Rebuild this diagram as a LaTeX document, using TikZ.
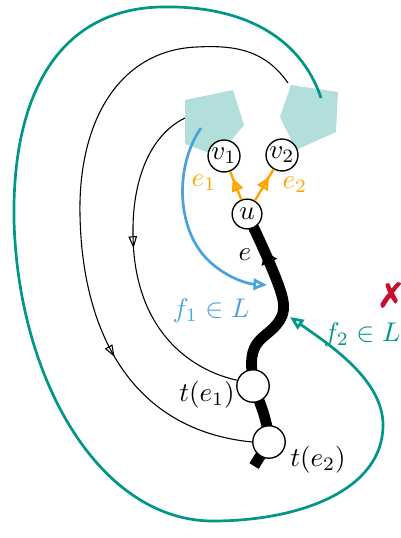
\documentclass[tikz,border=0pt]{standalone}
\usepackage{fontspec}
\newfontfamily\symfont[FakeBold=1.8]{DejaVu Sans}
\usetikzlibrary{arrows.meta,decorations.markings}
\pgfdeclarelayer{back}\pgfdeclarelayer{mid}\pgfsetlayers{back,mid,main}
\definecolor{tealc}{RGB}{0,150,136}
\definecolor{bluec}{RGB}{74,163,223}
\definecolor{orangec}{RGB}{255,165,0}
\definecolor{pentc}{RGB}{178,223,219}
\definecolor{redc}{RGB}{200,16,46}
\tikzset{
  vnode/.style={circle,draw,fill=white,inner sep=0.3pt,minimum size=11pt,line width=0.5pt},
  tnode/.style={circle,draw,fill=white,inner sep=0pt,minimum size=12pt,line width=0.5pt},
  pent/.style={fill=pentc,draw=none},
  thinc/.style={line width=0.4pt},
  midopen/.style={decoration={markings,mark=at position #1 with {\arrow{Triangle[open,length=4.4pt,width=3.2pt]}}},postaction=decorate},
  orangeedge/.style={draw=orangec,line width=0.9pt,decoration={markings,mark=at position 0.76 with {\arrow{Triangle[open,length=4.8pt,width=4.4pt]}}},postaction=decorate},
  thickedge/.style={line width=4pt},
  midsolid/.style={decoration={markings,mark=at position #1 with {\arrow{Latex[length=5.6pt,width=6.8pt]}}},postaction=decorate},
  bluecurve/.style={draw=bluec,line width=1pt},
  tealcurve/.style={draw=tealc,line width=1pt},
  endopen/.style={-{Triangle[open,length=5pt,width=4.2pt]}},
}
\begin{document}
\begin{tikzpicture}[x=0.37pt,y=-0.37pt]
\useasboundingbox (0,0) rectangle (401,538);
% nodes
\node[vnode] (u) at (247,214) {$u$};
\node[vnode] (v1) at (224,156) {$v_1$};
\node[vnode] (v2) at (282,155) {$v_2$};
\node[tnode] (t1) at (253,386) {};
\node[tnode] (t2) at (269,442) {};
% free coordinates
\coordinate (p1s) at (185,118);
\coordinate (p2s) at (288,83);
\coordinate (bs) at (201,128);
\coordinate (be) at (267,285);
\coordinate (ts) at (321,98);
\coordinate (te) at (290,317);
\coordinate (stub) at (254,466);
\begin{pgfonlayer}{back}
\fill[pent] (185,100) -- (233,90) -- (244,125) -- (218,156) -- (185,144) -- cycle;
\fill[pent] (291,85) -- (338,92) -- (336,132) -- (296,150) -- (280,117) -- cycle;
\end{pgfonlayer}
\begin{pgfonlayer}{mid}
% thin curves
\draw[thinc,midopen=0.45] (p1s) .. controls (150,135) and (132,180) .. (133,235)
   .. controls (134,330) and (190,370) .. (t1.160);
\draw[thinc,midopen=0.74] (p2s) .. controls (265,50) and (235,45) .. (197,47)
   .. controls (120,50) and (78,120) .. (80,215)
   .. controls (82,330) and (130,430) .. (t2.180);
% thick edge
\draw[thickedge,midsolid=0.8] (t1.center) .. controls (251,362) and (249,350) .. (262,338)
   .. controls (276,326) and (288,318) .. (282,296)
   .. controls (278,280) and (258,236) .. (u.center);
\draw[thickedge] (t2.center) .. controls (268,422) and (260,402) .. (t1.center);
\draw[thickedge] (t2.center) -- (stub);
% blue
\draw[bluecurve,endopen] (bs) .. controls (175,165) and (175,230) .. (210,262)
   .. controls (230,280) and (250,284) .. (be);
% teal
\draw[tealcurve,endopen] (ts) .. controls (300,35) and (240,5) .. (160,7)
   .. controls (55,10) and (12,100) .. (14,220)
   .. controls (18,380) and (100,521) .. (213,521)
   .. controls (300,521) and (383,490) .. (383,425)
   .. controls (383,380) and (330,345) .. (te);
\end{pgfonlayer}
% orange edges
\draw[orangeedge] (u) -- (v1);
\draw[orangeedge] (u) -- (v2);
% labels
\node[text=orangec] (le1) at (204,183) {$e_1$};
\node[text=orangec] (le2) at (295,185) {$e_2$};
\node (le) at (245,255) {$e$};
\node[text=bluec] (lf1) at (211,311) {$f_1\in L$};
\node[text=tealc,inner sep=0pt] (lf2) at (362,335) {$f_2\in L$};
\node[text=redc,font=\symfont\fontsize{12.5}{14}\selectfont,inner sep=0pt] (lx) at (391,295) {✗};
\node (lt1) at (207,395) {$t(e_1)$};
\node (lt2) at (318,460) {$t(e_2)$};
\end{tikzpicture}
\end{document}
